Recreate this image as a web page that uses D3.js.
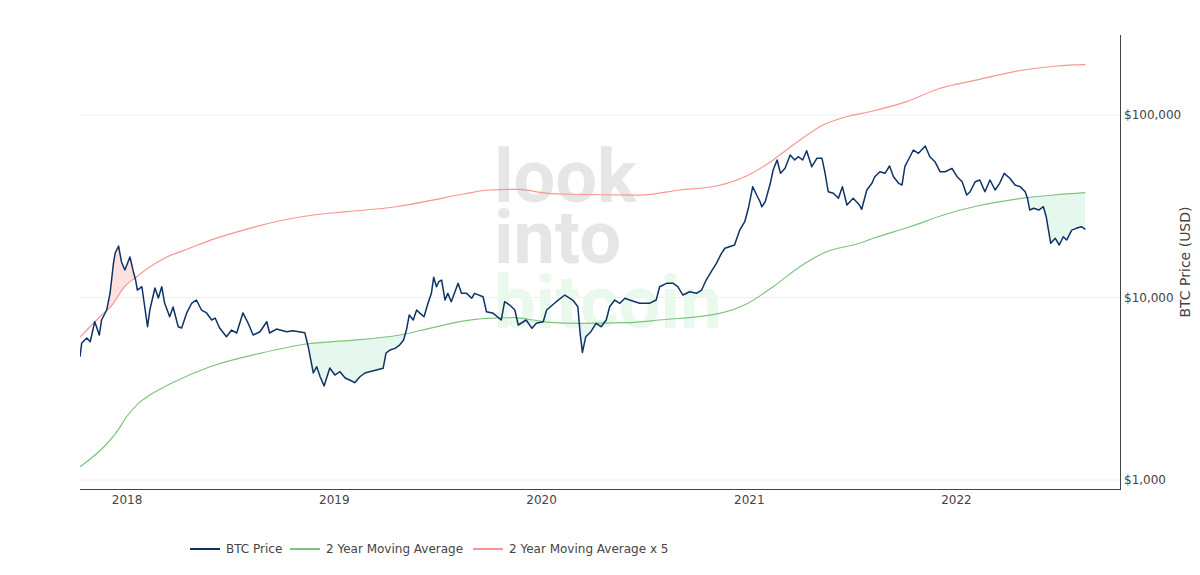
<!DOCTYPE html>
<html>
<head>
<meta charset="utf-8">
<script src="https://cdn.jsdelivr.net/npm/d3@7"></script>
<style>
  body { margin: 0; background: #fff; }
  svg { display: block; font-family: 'DejaVu Sans', Verdana, sans-serif; }
</style>
</head>
<body>
<svg id="chart" width="1200" height="575"></svg>
<script>
// BTC daily close (sampled), USD
var priceDates = ['2017-10-10','2017-10-13','2017-10-22','2017-10-28','2017-11-05','2017-11-13','2017-11-17','2017-11-26','2017-12-02','2017-12-08','2017-12-11','2017-12-17','2017-12-22','2017-12-28',
  '2018-01-06','2018-01-12','2018-01-16','2018-01-19','2018-01-27','2018-02-01','2018-02-06','2018-02-10','2018-02-19','2018-02-25','2018-03-03','2018-03-08','2018-03-17','2018-03-23','2018-04-01','2018-04-07','2018-04-16','2018-04-25','2018-05-03','2018-05-12','2018-05-21','2018-05-30','2018-06-05','2018-06-13','2018-06-25','2018-07-04','2018-07-13','2018-07-24','2018-08-02','2018-08-11','2018-08-23','2018-09-04','2018-09-09','2018-09-21','2018-10-09','2018-10-20','2018-11-10','2018-11-16','2018-11-25','2018-12-01','2018-12-07','2018-12-14','2018-12-24',
  '2019-01-02','2019-01-11','2019-01-20','2019-01-28','2019-02-06','2019-02-15','2019-02-24','2019-03-04','2019-03-16','2019-03-28','2019-04-02','2019-04-09','2019-04-18','2019-04-26','2019-05-03','2019-05-08','2019-05-13','2019-05-20','2019-05-26','2019-06-01','2019-06-08','2019-06-15','2019-06-21','2019-06-25','2019-06-30','2019-07-04','2019-07-09','2019-07-15','2019-07-20','2019-07-26','2019-08-07','2019-08-13','2019-08-22','2019-08-31','2019-09-05','2019-09-20','2019-09-26','2019-10-08','2019-10-22','2019-10-28','2019-11-06','2019-11-15','2019-11-21','2019-12-05','2019-12-15','2019-12-23',
  '2020-01-04','2020-01-10','2020-01-27','2020-02-11','2020-02-25','2020-03-05','2020-03-09','2020-03-13','2020-03-19','2020-03-28','2020-04-06','2020-04-15','2020-04-24','2020-04-30','2020-05-09','2020-05-18','2020-05-27','2020-06-04','2020-06-22','2020-07-09','2020-07-21','2020-07-27','2020-08-08','2020-08-20','2020-08-28','2020-09-06','2020-09-18','2020-09-30','2020-10-09','2020-10-17','2020-10-26','2020-11-04','2020-11-13','2020-11-19','2020-11-27','2020-12-06','2020-12-15','2020-12-24','2020-12-31',
  '2021-01-07','2021-01-14','2021-01-20','2021-01-23','2021-01-29','2021-02-07','2021-02-12','2021-02-19','2021-02-25','2021-03-05','2021-03-14','2021-03-22','2021-03-28','2021-04-05','2021-04-12','2021-04-21','2021-04-30','2021-05-09','2021-05-14','2021-05-20','2021-05-29','2021-06-07','2021-06-14','2021-06-22','2021-07-03','2021-07-14','2021-07-18','2021-07-27','2021-08-05','2021-08-10','2021-08-19','2021-08-28','2021-09-05','2021-09-12','2021-09-21','2021-09-27','2021-10-02','2021-10-08','2021-10-17','2021-10-26','2021-11-07','2021-11-15','2021-11-24','2021-12-03','2021-12-12','2021-12-24',
  '2022-01-02','2022-01-11','2022-01-19','2022-01-25','2022-02-03','2022-02-11','2022-02-20','2022-03-01','2022-03-10','2022-03-18','2022-03-26','2022-04-05','2022-04-14','2022-04-23','2022-05-02','2022-05-06','2022-05-10','2022-05-17','2022-05-26','2022-06-03','2022-06-08','2022-06-12','2022-06-16','2022-06-24','2022-07-01','2022-07-08','2022-07-14','2022-07-23','2022-07-31','2022-08-09','2022-08-16']
var priceValues = [4740,5630,6000,5725,7370,6230,7530,8540,10590,15450,17530,19150,15710,14150,
  16670,13850,12470,10990,11460,8900,6920,8540,11270,9940,11460,9330,7850,8870,6920,6810,8230,9330,9690,8540,8230,7530,7720,6810,6100,6635,6390,8230,7250,6230,6495,7370,6390,6720,6495,6580,6415,5375,3858,4177,3681,3275,4110,
  3762,3922,3622,3531,3414,3681,3858,3922,4007,4093,4965,5155,5267,5491,5850,6635,8020,7530,8540,8190,7850,9295,10540,12900,11460,12210,12470,9690,10540,9485,11960,10540,10540,9900,10540,10100,8360,8190,7530,9485,9095,8540,7070,7530,6780,7220,
  7370,8540,9485,10320,9690,8900,6366,5000,6100,6495,7220,6920,7530,8900,9690,9295,9900,9690,9295,9295,9690,11460,11960,11960,11460,10320,10760,10540,10990,12470,13850,15390,17470,18610,18990,19400,23400,26020,31440,
  40470,36440,33490,31440,33490,42250,49950,56680,47920,51050,60380,56680,59100,56680,63730,52090,57900,57900,48900,37990,37240,34970,40500,32130,34970,32130,30430,38820,42250,45910,48900,47920,52550,45910,42250,41340,52090,56680,64300,61680,67640,59100,55480,48900,48900,51050,
  45910,43110,36440,37990,43110,44040,37990,44040,38820,42250,47920,45000,41340,40500,37990,34970,30160,30830,30160,31440,27720,23400,19820,21110,19400,21530,20650,23400,23940,24430,23640]

// 2 year moving average
var maDates = ['2017-10-10','2017-11-26','2017-12-16','2017-12-31','2018-01-21','2018-02-10','2018-03-20','2018-05-27','2018-08-23','2018-11-13','2019-01-22','2019-04-26','2019-06-18','2019-08-10','2019-09-26','2019-11-12','2019-12-17','2020-01-10','2020-03-08','2020-05-30','2020-07-27','2020-11-10','2020-12-27','2021-02-12','2021-03-31','2021-05-17','2021-07-14','2021-08-07','2021-10-11','2021-12-09','2022-02-06','2022-05-05','2022-06-21','2022-08-16']
var maValues = [1183,1575,1879,2222,2632,2923,3388,4177,4945,5563,5799,6230,6780,7370,7690,7750,7530,7340,7220,7280,7530,8190,9210,11460,14750,17820,19820,21110,24430,28330,31720,35230,36440,37520]

// 2 year moving average x 5
var ma5Dates = ['2017-10-10','2017-11-14','2017-12-08','2017-12-25','2018-01-18','2018-02-04','2018-03-11','2018-04-21','2018-06-01','2018-07-30','2018-09-27','2018-11-25','2019-01-22','2019-04-20','2019-06-18','2019-08-16','2019-10-02','2019-11-24','2019-12-29','2020-02-02','2020-06-22','2020-09-01','2020-11-04','2020-12-27','2021-02-01','2021-03-14','2021-05-11','2021-06-21','2021-08-07','2021-10-05','2021-12-03','2022-01-31','2022-04-29','2022-06-27','2022-08-16']
var ma5Values = [6075,7850,9295,11230,13000,14270,16610,18610,20840,23640,26350,28330,29520,31440,33920,36910,38820,39170,37700,36910,36440,38820,40830,46330,53700,66530,88170,97880,105200,118300,140100,154200,176500,185600,188700]

var yTicks = [1000, 10000, 100000]
var xTicks = ['2018-01-01', '2019-01-01', '2020-01-01', '2021-01-01', '2022-01-01']

var series = [
  { name: 'BTC Price', color: '#0d3366', width: 1.5 },
  { name: '2 Year Moving Average', color: '#7cc47e', width: 1.2 },
  { name: '2 Year Moving Average x 5', color: '#f79591', width: 1.2 }
]

var ctx = { left: 80, right: 1120, top: 35, bottom: 489 }
var parse = d3.timeParse('%Y-%m-%d')

var price = d3.zip(priceDates, priceValues).map(d => ({ date: parse(d[0]), v: d[1] }))
var ma = d3.zip(maDates, maValues).map(d => ({ date: parse(d[0]), v: d[1] }))
var ma5 = d3.zip(ma5Dates, ma5Values).map(d => ({ date: parse(d[0]), v: d[1] }))

var x = d3.scaleTime()
  .domain([parse('2017-10-10'), parse('2022-10-16')])
  .range([ctx.left, ctx.right])
var y = d3.scaleLog()
  .domain([893, 274400])
  .range([ctx.bottom, ctx.top])

var svg = d3.select('#chart')

svg.append('clipPath').attr('id', 'plotclip')
   .append('rect')
   .attr('x', ctx.left).attr('y', ctx.top)
   .attr('width', ctx.right - ctx.left).attr('height', ctx.bottom - ctx.top)

// gridlines
svg.append('g')
   .selectAll('line')
   .data(yTicks)
   .join('line')
   .attr('x1', ctx.left).attr('x2', ctx.right)
   .attr('y1', d => y(d)).attr('y2', d => y(d))
   .style('stroke', '#eeeeee')
   .style('stroke-width', 1)

// watermark
var wm = svg.append('g')
  .attr('font-family', 'Roboto, sans-serif')
  .attr('font-weight', 700)
  .attr('font-size', 74)
wm.append('text').attr('x', 494).attr('y', 202).style('fill', '#e6e6e6').text('look')
wm.append('text').attr('x', 494).attr('y', 263).style('fill', '#e6e6e6').text('into')
wm.append('text').attr('x', 494).attr('y', 328).style('fill', '#e9f9ec').text('bitcoin')

var plot = svg.append('g').attr('clip-path', 'url(#plotclip)')

// fill masks: above / below the price line
var clips = svg.append('defs')
clips.append('clipPath').attr('id', 'abovePrice')
     .append('path')
     .attr('d', d3.area().x(d => x(d.date)).y0(ctx.top).y1(d => y(d.v))(price))
clips.append('clipPath').attr('id', 'belowPrice')
     .append('path')
     .attr('d', d3.area().x(d => x(d.date)).y0(ctx.bottom).y1(d => y(d.v))(price))

// price under the 2yr MA
plot.append('path')
    .attr('clip-path', 'url(#abovePrice)')
    .attr('d', d3.area().curve(d3.curveMonotoneX).x(d => x(d.date)).y0(ctx.bottom).y1(d => y(d.v))(ma))
    .style('fill', '#e6f7ed')

// price over the 2yr MA x5
plot.append('path')
    .attr('clip-path', 'url(#belowPrice)')
    .attr('d', d3.area().curve(d3.curveMonotoneX).x(d => x(d.date)).y0(ctx.top).y1(d => y(d.v))(ma5))
    .style('fill', '#fde0e0')

var lineMono = d3.line().curve(d3.curveMonotoneX).x(d => x(d.date)).y(d => y(d.v))

plot.append('path')
    .attr('d', lineMono(ma))
    .style('fill', 'none')
    .style('stroke', series[1].color)
    .style('stroke-width', series[1].width)

plot.append('path')
    .attr('d', lineMono(ma5))
    .style('fill', 'none')
    .style('stroke', series[2].color)
    .style('stroke-width', series[2].width)

plot.append('path')
    .attr('d', d3.line().x(d => x(d.date)).y(d => y(d.v))(price))
    .style('fill', 'none')
    .style('stroke', series[0].color)
    .style('stroke-width', series[0].width)
    .style('stroke-linejoin', 'round')

// axes
svg.append('line')
   .attr('x1', ctx.left).attr('x2', ctx.right)
   .attr('y1', ctx.bottom + 0.5).attr('y2', ctx.bottom + 0.5)
   .style('stroke', '#444').style('stroke-width', 1)
svg.append('line')
   .attr('x1', ctx.right + 0.5).attr('x2', ctx.right + 0.5)
   .attr('y1', ctx.top).attr('y2', ctx.bottom + 1)
   .style('stroke', '#444').style('stroke-width', 1)

var fmt = d3.format(',')
svg.append('g')
   .selectAll('text')
   .data(yTicks)
   .join('text')
   .attr('x', ctx.right + 4)
   .attr('y', d => y(d) + 4)
   .attr('font-size', 12)
   .style('fill', '#444')
   .text(d => '$' + fmt(d))

svg.append('g')
   .selectAll('text')
   .data(xTicks)
   .join('text')
   .attr('x', d => x(parse(d)))
   .attr('y', ctx.bottom + 15)
   .attr('font-size', 12)
   .attr('text-anchor', 'middle')
   .style('fill', '#444')
   .text(d => d3.timeFormat('%Y')(parse(d)))

svg.append('text')
   .attr('transform', 'translate(' + 1190 + ',' + ((ctx.top + ctx.bottom) / 2) + ') rotate(-90)')
   .attr('text-anchor', 'middle')
   .attr('font-size', 14)
   .style('fill', '#444')
   .text('BTC Price (USD)')

// legend
var legendX = [190, 290, 473]
var legend = svg.append('g')
series.forEach((item, i) => {
  legend.append('line')
        .attr('x1', legendX[i]).attr('x2', legendX[i] + 30)
        .attr('y1', 549).attr('y2', 549)
        .style('stroke', item.color)
        .style('stroke-width', 2)
  legend.append('text')
        .attr('x', legendX[i] + 36)
        .attr('y', 553)
        .attr('font-size', 12)
        .style('fill', '#444')
        .text(item.name)
})
</script>
</body>
</html>
